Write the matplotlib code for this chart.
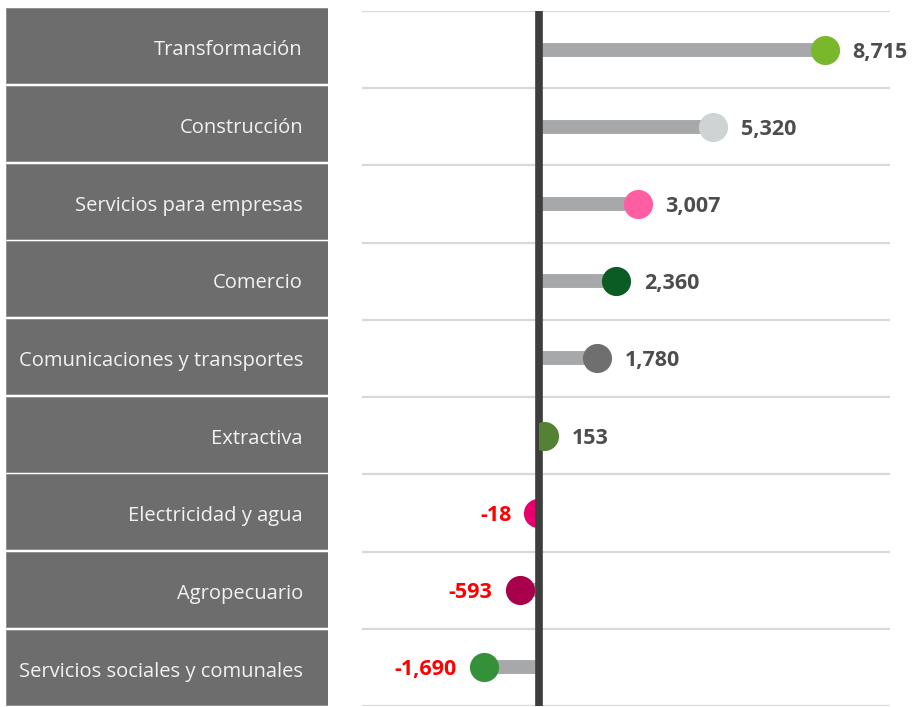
import matplotlib
matplotlib.use('Agg')
import matplotlib.pyplot as plt
from matplotlib.patches import Rectangle
import numpy as np

categories = ['Transformación', 'Construcción', 'Servicios para empresas', 'Comercio',
              'Comunicaciones y transportes', 'Extractiva', 'Electricidad y agua',
              'Agropecuario', 'Servicios sociales y comunales']
values = [8715, 5320, 3007, 2360, 1780, 153, -18, -593, -1690]
dot_colors = ['#78b82a', '#d0d3d4', '#ff5fa2', '#0a5c24', '#6f6f6f',
              '#548235', '#e5006d', '#a8004a', '#35903a']

plt.rcParams['font.family'] = ['Open Sans', 'DejaVu Sans']

W, H = 919, 707
fig = plt.figure(figsize=(W / 100, H / 100), dpi=100)
fig.patch.set_facecolor('white')
n = len(categories)
ys = np.arange(n)

# main lollipop axes
ax = fig.add_axes([362 / W, 1 / H, (890 - 362) / W, (706 - 11) / H])
xmin, xmax = -5396, 10701
ax.set_xlim(xmin, xmax)
ax.set_ylim(n - 0.5, -0.5)
for s in ax.spines.values():
    s.set_visible(False)
ax.set_xticks([])
ax.set_yticks([])
for b in np.arange(-0.5, n + 0.5, 1.0):
    ax.axhline(b, color='#d9d9d9', lw=1.6, zorder=1)
ax.hlines(ys, 0, values, color='#a7a8aa', lw=10, zorder=2, capstyle='butt')
ax.axvline(0, color='#3d3d3d', lw=5.5, zorder=4)

neg_clip = Rectangle((xmin, -0.5), 0 - xmin, n, transform=ax.transData)
pos_clip = Rectangle((0, -0.5), xmax, n, transform=ax.transData)

for y, v, c in zip(ys, values, dot_colors):
    sc = ax.scatter(v, y, s=440, color=c, linewidths=0, zorder=5 if v >= 0 else 3)
    sc.set_clip_path(pos_clip if v >= 0 else neg_clip)
    if v >= 0:
        ax.annotate(f"{v:,}", xy=(v, y), xytext=(20, 0), textcoords='offset points',
                    ha='left', va='center_baseline', fontsize=15.5, fontweight='bold',
                    color='#4d4d4d', zorder=6)
    else:
        ax.annotate(f"{v:,}", xy=(v, y), xytext=(-19.5, 0), textcoords='offset points',
                    ha='right', va='center_baseline', fontsize=15.5, fontweight='bold',
                    color='#ff0000', zorder=6)

# left category boxes
axl = fig.add_axes([6 / W, 1 / H, (328 - 6) / W, (708 - 9) / H])
axl.set_xlim(0, 1)
axl.set_ylim(n - 0.5, -0.5)
for s in axl.spines.values():
    s.set_visible(False)
axl.set_xticks([])
axl.set_yticks([])
axl.barh(ys, [1] * n, left=0, height=0.968, color='#6d6d6d', edgecolor='#8a8a8a', linewidth=0.6)
for y, cat in zip(ys, categories):
    axl.annotate(cat, xy=(0.922, y), xytext=(0, -2), textcoords='offset pixels',
                 ha='right', va='center_baseline', fontsize=14.5, color='#f2f2f2')

fig.savefig('out.png', dpi=100, facecolor='white')
